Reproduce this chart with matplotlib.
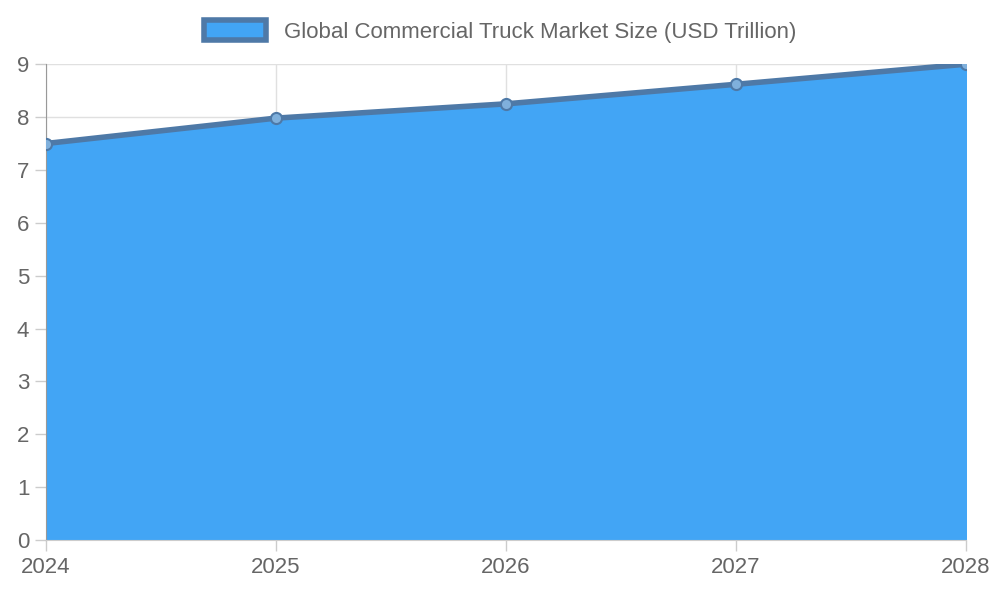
import matplotlib.pyplot as plt
import matplotlib.patches as mpatches

plt.rcParams['font.family'] = ['Liberation Sans', 'DejaVu Sans']

years = ['2024', '2025', '2026', '2027', '2028']
market_size = [7.5, 7.98, 8.25, 8.62, 9.0]

fig = plt.figure(figsize=(10, 6), dpi=100)
ax = fig.add_axes([0.046, 0.10, 0.92, 0.793])

x = range(len(years))
ax.fill_between(x, market_size, 0, color='#42a5f5', zorder=2)
ax.plot(x, market_size, color='#4e79a7', lw=4, zorder=3)
ax.plot(x, market_size, 'o', ms=8, mfc='#7fb0dc', mec='#4e79a7', mew=1.5, zorder=4)

ax.set_xlim(0, len(years) - 1)
ax.set_ylim(0, 9)
ax.set_xticks(list(x))
ax.set_xticklabels(years)
ax.set_yticks(range(10))
ax.grid(True, color='#e0e0e0', lw=1, zorder=0)
ax.tick_params(colors='#666666', labelsize=16, length=8, width=1)
ax.tick_params(axis='x', pad=4)
ax.tick_params(axis='y', pad=4)
for s in ['top', 'right']:
    ax.spines[s].set_visible(False)
ax.spines['left'].set_color('#999999')
ax.spines['bottom'].set_color('#cccccc')
ax.tick_params(axis='both', color='#cccccc')

handle = mpatches.Patch(facecolor='#42a5f5', edgecolor='#4e79a7', lw=4)
fig.legend(handles=[handle], labels=['Global Commercial Truck Market Size (USD Trillion)'],
           loc='upper center', bbox_to_anchor=(0.5, 1.0), frameon=False,
           fontsize=16, labelcolor='#666666', handlelength=2.8, handleheight=1.0)

fig.savefig('out.png', dpi=100)
